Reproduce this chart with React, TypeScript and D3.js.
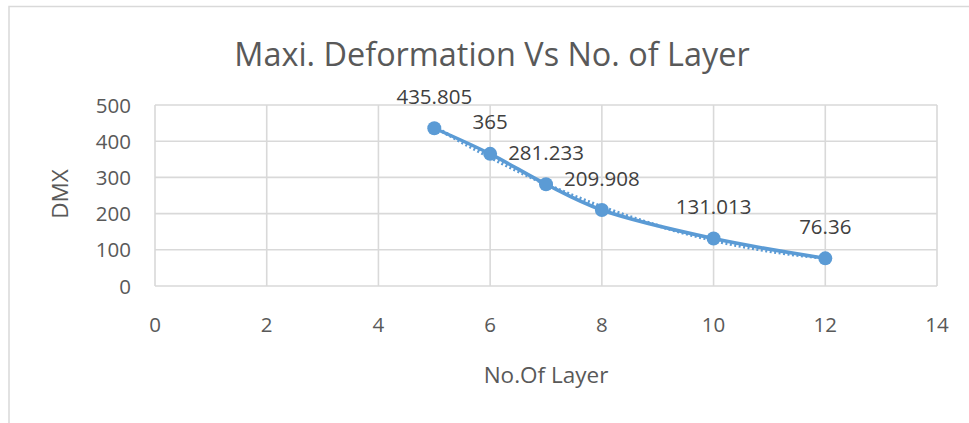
import React from "react";
import * as d3 from "d3";

const layers = [5, 6, 7, 8, 10, 12];
const dmx = [435.805, 365, 281.233, 209.908, 131.013, 76.36];
const xTicks = [0, 2, 4, 6, 8, 10, 12, 14];
const yTicks = [0, 100, 200, 300, 400, 500];
const title = "Maxi. Deformation Vs No. of Layer";
const xTitle = "No.Of Layer";
const yTitle = "DMX";

const W = 969;
const H = 423;
const FONT = "'Open Sans', sans-serif";
const TEXT = "#595959";
const LABEL = "#404040";
const GRID = "#d9d9d9";
const SERIES = "#5b9bd5";

// quadratic least-squares trendline (derived from the data)
function quadFit(xs: number[], ys: number[]) {
  let s0 = 0, s1 = 0, s2 = 0, s3 = 0, s4 = 0, t0 = 0, t1 = 0, t2 = 0;
  xs.forEach((x, i) => {
    const y = ys[i];
    s0 += 1; s1 += x; s2 += x * x; s3 += x ** 3; s4 += x ** 4;
    t0 += y; t1 += x * y; t2 += x * x * y;
  });
  const M = [
    [s0, s1, s2, t0],
    [s1, s2, s3, t1],
    [s2, s3, s4, t2],
  ];
  for (let i = 0; i < 3; i++) {
    for (let j = i + 1; j < 3; j++) {
      const f = M[j][i] / M[i][i];
      for (let k = i; k < 4; k++) M[j][k] -= f * M[i][k];
    }
  }
  const c = [0, 0, 0];
  for (let i = 2; i >= 0; i--) {
    let s = M[i][3];
    for (let k = i + 1; k < 3; k++) s -= M[i][k] * c[k];
    c[i] = s / M[i][i];
  }
  return (x: number) => c[0] + c[1] * x + c[2] * x * x;
}

export default function App() {
  const x = d3.scaleLinear().domain([0, 14]).range([155, 937]);
  const y = d3.scaleLinear().domain([0, 500]).range([286, 105]);

  const pts = layers.map((l, i) => [l, dmx[i]] as [number, number]);
  const line = d3
    .line<[number, number]>()
    .x((d) => x(d[0]))
    .y((d) => y(d[1]))
    .curve(d3.curveCatmullRom.alpha(0.5));

  const fit = quadFit(layers, dmx);
  const trendPts = d3.range(0, 141).map((i) => {
    const xv = layers[0] + ((layers[layers.length - 1] - layers[0]) * i) / 140;
    return [xv, fit(xv)] as [number, number];
  });
  const trendLine = d3
    .line<[number, number]>()
    .x((d) => x(d[0]))
    .y((d) => y(d[1]));

  return (
    <svg
      width={W}
      height={H}
      style={{ position: "absolute", left: 0, top: 0, background: "#fff" }}
      fontFamily={FONT}
    >
      <rect x={0} y={0} width={W} height={H} fill="#fff" />
      <rect
        x={9}
        y={6.5}
        width={W + 20}
        height={H + 20}
        fill="#fff"
        stroke={GRID}
        strokeWidth={1.5}
      />
      <text
        x={492}
        y={66}
        textAnchor="middle"
        fontSize={32.4}
        fill={TEXT}
      >
        {title}
      </text>

      {yTicks.map((t) => (
        <line
          key={"gy" + t}
          x1={x(0)}
          x2={x(14)}
          y1={y(t)}
          y2={y(t)}
          stroke={GRID}
          strokeWidth={1.6}
        />
      ))}
      {xTicks.map((t) => (
        <line
          key={"gx" + t}
          x1={x(t)}
          x2={x(t)}
          y1={y(0)}
          y2={y(500)}
          stroke={GRID}
          strokeWidth={1.6}
        />
      ))}

      {yTicks.map((t) => (
        <text
          key={"ty" + t}
          x={131}
          y={y(t) + 7.5}
          textAnchor="end"
          fontSize={20.5}
          fill={TEXT}
        >
          {t}
        </text>
      ))}
      {xTicks.map((t) => (
        <text
          key={"tx" + t}
          x={x(t)}
          y={332.3}
          textAnchor="middle"
          fontSize={20.5}
          fill={TEXT}
        >
          {t}
        </text>
      ))}

      <text
        x={x(7)}
        y={383}
        textAnchor="middle"
        fontSize={22.5}
        fill={TEXT}
      >
        {xTitle}
      </text>
      <text
        transform={`translate(68.3,194) rotate(-90)`}
        textAnchor="middle"
        fontSize={22.5}
        fill={TEXT}
      >
        {yTitle}
      </text>

      <path
        d={trendLine(trendPts) || ""}
        fill="none"
        stroke={SERIES}
        strokeWidth={3.5}
        strokeDasharray="2 2.5"
      />
      <path
        d={line(pts) || ""}
        fill="none"
        stroke={SERIES}
        strokeWidth={3.5}
        strokeLinecap="round"
      />
      {pts.map((p, i) => (
        <circle key={"c" + i} cx={x(p[0])} cy={y(p[1])} r={7} fill={SERIES} />
      ))}
      {pts.map((p, i) => (
        <text
          key={"l" + i}
          x={x(p[0])}
          y={y(p[1]) - 24.5}
          textAnchor="middle"
          fontSize={20.5}
          fill={LABEL}
        >
          {String(p[1])}
        </text>
      ))}
    </svg>
  );
}
